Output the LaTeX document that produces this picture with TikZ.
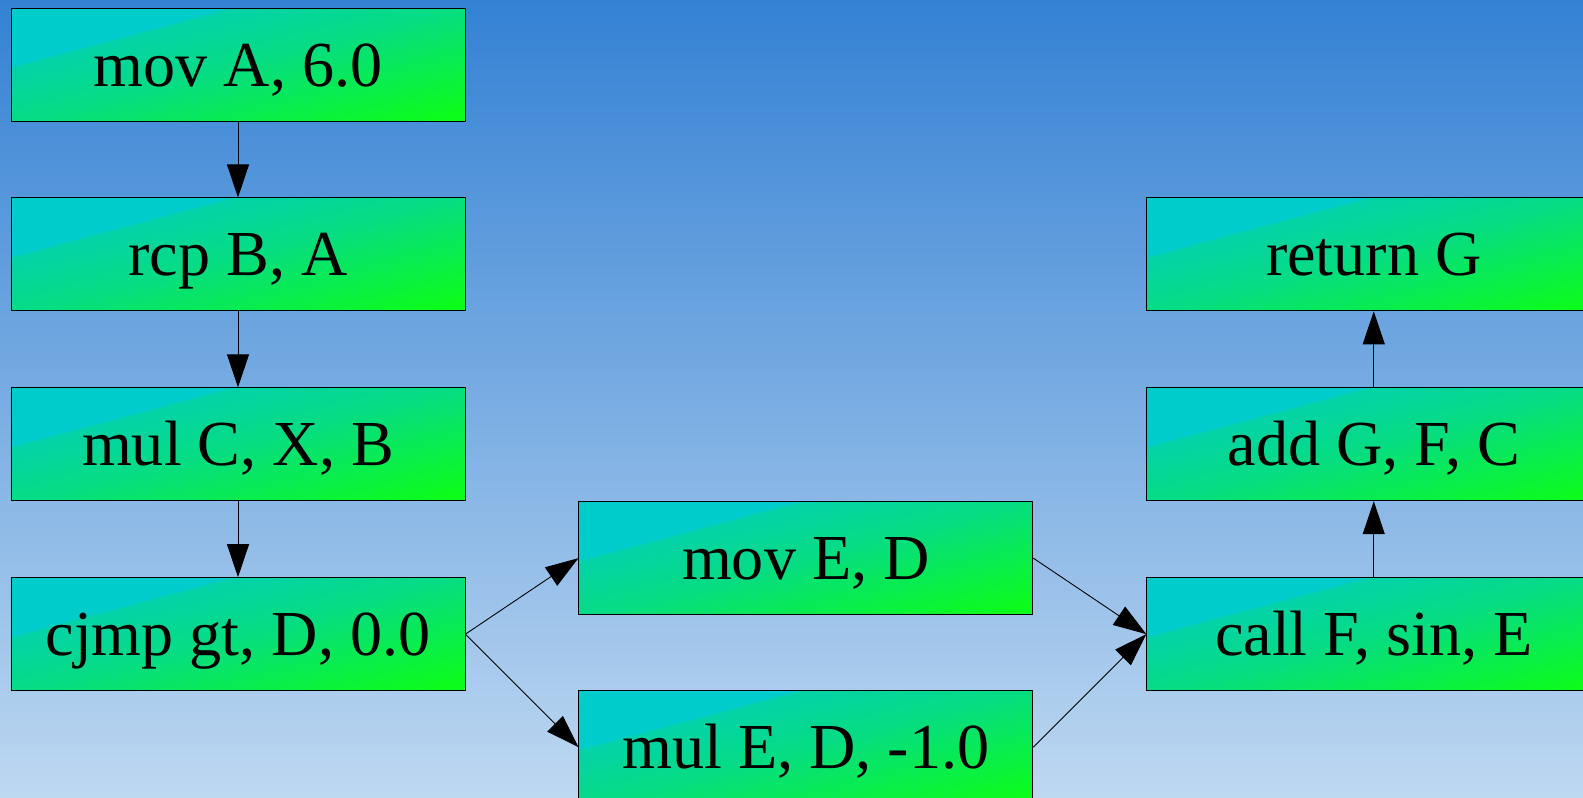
\documentclass[tikz,border=0pt]{standalone}
\usepackage{fontspec}
\setmainfont{Liberation Serif}
\usepackage{xcolor}
\usepackage{tikz}
\usetikzlibrary{arrows.meta, positioning}

\definecolor{bgtop}{RGB}{52,129,212}
\definecolor{bgbottom}{RGB}{190,216,241}
\definecolor{boxcyan}{RGB}{0,204,204}
\definecolor{boxteal}{RGB}{4,210,168}
\definecolor{boxmid}{RGB}{6,220,132}
\definecolor{boxgreen}{RGB}{12,252,28}

% cyan corner, then teal fading to green
\pgfdeclareverticalshading{instrshade}{100bp}{color(0bp)=(boxgreen); color(22bp)=(boxgreen); color(50bp)=(boxmid); color(65bp)=(boxteal); color(65.6bp)=(boxcyan); color(100bp)=(boxcyan)}

\begin{document}
\begin{tikzpicture}[
    node distance=1.52cm,
    instr/.style={rectangle, draw=black, line width=0.5pt, shading=instrshade, shading angle=15, minimum width=9.08cm, minimum height=2.26cm, inner sep=0pt, text height=1.0cm, text depth=0.14cm, font=\fontsize{36.5}{44}\selectfont},
    arrow/.style={-{Triangle[length=0.66cm, width=0.44cm]}, line width=0.5pt}
]

% Background
\useasboundingbox (0,0) rectangle (31.66,-15.96);
\fill[top color=bgtop, bottom color=bgbottom] (0,0) rectangle (31.66,-15.96);

% Left column
\node[instr] (movA) at (4.76,-1.29) {mov A, 6.0};
\node[instr, below=of movA] (rcpB) {rcp B, A};
\node[instr, below=of rcpB] (mulC) {mul C, X, B};
\node[instr, below=of mulC] (cjmp) {cjmp gt, D, 0.0};

% Branches
\node[instr, right=2.26cm of cjmp, yshift=1.52cm] (movE) {mov E, D};
\node[instr, right=2.26cm of cjmp, yshift=-2.26cm] (mulE) {mul E, D, -1.0};

% Right column
\node[instr, right=2.26cm of movE, yshift=-1.52cm] (callF) {call F, sin, E};
\node[instr, above=of callF] (addG) {add G, F, C};
\node[instr, above=of addG] (ret) {return G};

% Arrows
\draw[arrow] (movA) -- (rcpB);
\draw[arrow] (rcpB) -- (mulC);
\draw[arrow] (mulC) -- (cjmp);

\draw[arrow] (cjmp.east) -- (movE.west);
\draw[arrow] (cjmp.east) -- (mulE.west);
\draw[arrow] (movE.east) -- (callF.west);
\draw[arrow] (mulE.east) -- (callF.west);

\draw[arrow] (callF) -- (addG);
\draw[arrow] (addG) -- (ret);

\end{tikzpicture}
\end{document}
